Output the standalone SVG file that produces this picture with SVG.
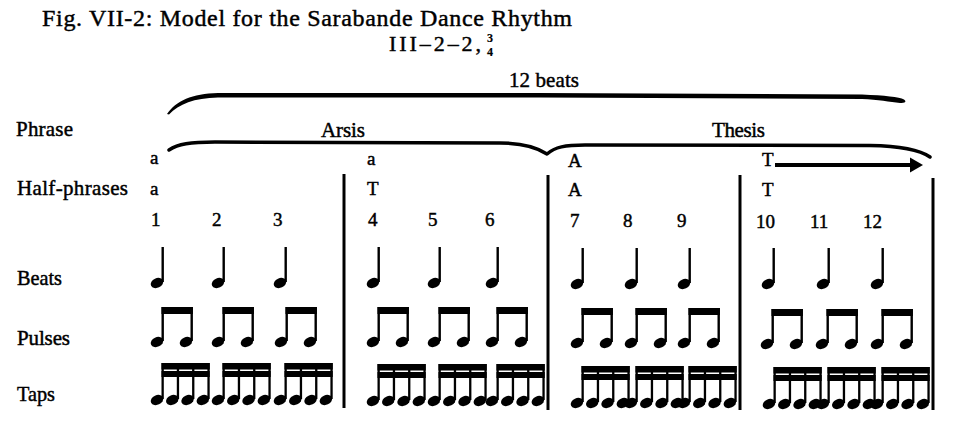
<svg xmlns="http://www.w3.org/2000/svg" width="960" height="435" viewBox="0 0 960 435">
<style>
text{font-family:"Liberation Serif","Times New Roman",serif;fill:#000;stroke:#000;stroke-width:0.45px}
.title{font-size:24px}
.sub{font-size:22px}
.lbl{font-size:21px}
.row{font-size:19px}
.frac{font-size:12px;font-weight:bold;stroke-width:0.2px}
.bar{stroke:#000;stroke-width:3;fill:none}
.brace{fill:#000}
</style>
<defs>
<ellipse id="head" rx="6.5" ry="4.8" transform="rotate(-25)"/>
<g id="q"><use href="#head"/><rect x="4.5" y="-36" width="2.4" height="35"/></g>
<g id="e2"><use href="#head"/><use href="#head" x="29"/><rect x="4.5" y="-35" width="2.4" height="34"/><rect x="33.5" y="-35" width="2.4" height="34"/><rect x="4.5" y="-35" width="31.4" height="7"/></g>
<g id="s4"><use href="#head"/><use href="#head" x="15.3"/><use href="#head" x="30.6"/><use href="#head" x="45.9"/>
<rect x="4.5" y="-37" width="2.3" height="36"/><rect x="19.8" y="-37" width="2.3" height="36"/><rect x="35.1" y="-37" width="2.3" height="36"/><rect x="50.4" y="-37" width="2.3" height="36"/>
<rect x="4.5" y="-37" width="48.2" height="6.5"/><rect x="4.5" y="-29" width="48.2" height="6"/></g>
</defs>
<rect width="960" height="435" fill="#fff"/>
<g id="title">
<text class="title" x="42" y="26" textLength="530" lengthAdjust="spacing">Fig. VII-2: Model for the Sarabande Dance Rhythm</text>
<text class="sub" x="389" y="51" textLength="92" lengthAdjust="spacing">III–2–2,</text>
<text class="frac" x="490" y="42" text-anchor="middle">3</text>
<text class="frac" x="490" y="56" text-anchor="middle">4</text>
</g>
<g id="labels">
<text class="lbl" x="16" y="136" textLength="57" lengthAdjust="spacing">Phrase</text>
<text class="lbl" x="17" y="195" textLength="111" lengthAdjust="spacing">Half-phrases</text>
<text class="lbl" x="17" y="285" textLength="45" lengthAdjust="spacingAndGlyphs">Beats</text>
<text class="lbl" x="17" y="345" textLength="53" lengthAdjust="spacing">Pulses</text>
<text class="lbl" x="17" y="401" textLength="38" lengthAdjust="spacingAndGlyphs">Taps</text>
</g>
<g id="brace-labels">
<text class="lbl" x="509" y="87" textLength="70" lengthAdjust="spacing">12 beats</text>
<text class="lbl" x="321" y="137" textLength="44" lengthAdjust="spacing">Arsis</text>
<text class="lbl" x="712" y="137" textLength="53" lengthAdjust="spacing">Thesis</text>
</g>
<g id="connectors">
<path class="brace" d="M167,114 C176,101 192,93.5 218,93 L540,93 L862,94.5 C885,95.5 899,97 904,99.5 C907,101.5 905,103.5 900,103 C890,102 878,99.5 862,99 L540,97.5 L218,97.5 C194,98 179,104 169,114.5 Z"/>
<path d="M169,150 C178,144 190,142 215,142 L500,143 C520,143 535,146 547,154 C555,147 565,145 585,145 L870,145.5 C900,146 920,150 930,157" fill="none" stroke="#000" stroke-width="3.5" stroke-linecap="round" stroke-linejoin="round"/>
<line x1="775" y1="165" x2="912" y2="165" stroke="#000" stroke-width="3.8"/>
<polygon points="910,157.5 923,165 910,172.5"/>
<line class="bar" x1="344" y1="174" x2="344" y2="408"/>
<line class="bar" x1="548" y1="175" x2="548" y2="410"/>
<line class="bar" x1="740" y1="175" x2="740" y2="410"/>
<line class="bar" x1="933" y1="178" x2="933" y2="410"/>
</g>
<g id="measure1">
<text class="row" x="150" y="164">a</text>
<text class="row" x="150" y="195">a</text>
<text class="row" x="151" y="226">1</text><text class="row" x="212" y="226">2</text><text class="row" x="273" y="226">3</text>
<use href="#q" x="157" y="283"/><use href="#q" x="218" y="283"/><use href="#q" x="280" y="283"/>
<use href="#e2" x="157" y="342"/><use href="#e2" x="218" y="342"/><use href="#e2" x="281" y="342"/>
<use href="#s4" x="157" y="400"/><use href="#s4" x="218" y="400"/><use href="#s4" x="280" y="400"/>
</g>
<g id="measure2">
<text class="row" x="367" y="165">a</text>
<text class="row" x="367" y="195">T</text>
<text class="row" x="368" y="226">4</text><text class="row" x="428" y="226">5</text><text class="row" x="485" y="226">6</text>
<use href="#q" x="373" y="283"/><use href="#q" x="434" y="283"/><use href="#q" x="492" y="283"/>
<use href="#e2" x="373" y="342"/><use href="#e2" x="434" y="342"/><use href="#e2" x="492" y="342"/>
<use href="#s4" x="373" y="401"/><use href="#s4" x="434" y="401"/><use href="#s4" x="492" y="401"/>
</g>
<g id="measure3">
<text class="row" x="568" y="167">A</text>
<text class="row" x="568" y="196">A</text>
<text class="row" x="570" y="227">7</text><text class="row" x="623" y="227">8</text><text class="row" x="677" y="227">9</text>
<use href="#q" x="577" y="284"/><use href="#q" x="631" y="284"/><use href="#q" x="684" y="284"/>
<use href="#e2" x="577" y="343"/><use href="#e2" x="631" y="343"/><use href="#e2" x="684" y="343"/>
<use href="#s4" x="577" y="403"/><use href="#s4" x="631" y="403"/><use href="#s4" x="684" y="403"/>
</g>
<g id="measure4">
<text class="row" x="762" y="166">T</text>
<text class="row" x="762" y="196">T</text>
<text class="row" x="756" y="228">10</text><text class="row" x="810" y="228">11</text><text class="row" x="863" y="228">12</text>
<use href="#q" x="768" y="284"/><use href="#q" x="823" y="284"/><use href="#q" x="877" y="284"/>
<use href="#e2" x="767" y="344"/><use href="#e2" x="822" y="344"/><use href="#e2" x="877" y="344"/>
<use href="#s4" x="769" y="404"/><use href="#s4" x="823" y="404"/><use href="#s4" x="877" y="404"/>
</g>
</svg>
